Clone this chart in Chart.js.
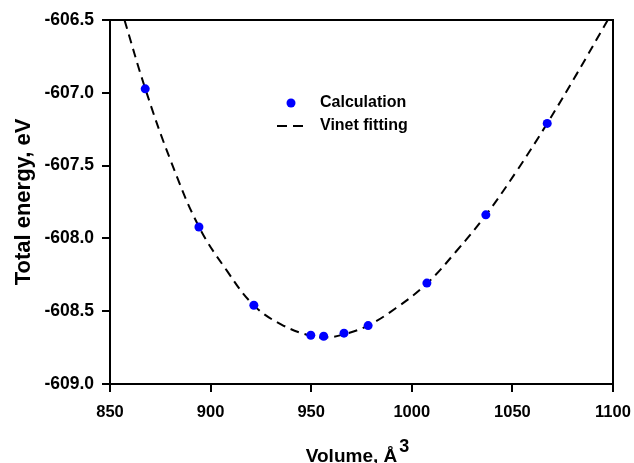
<!DOCTYPE html>
<html>
<head>
<meta charset="utf-8">
<script src="https://cdn.jsdelivr.net/npm/chart.js@4"></script>
<style>
html,body{margin:0;padding:0;background:#fff;}
canvas{display:block;}
</style>
</head>
<body>
<canvas id="c" width="634" height="463"></canvas>
<script>
// ---- Data ----
const calcVolumes = [867.5, 894.2, 921.5, 949.8, 956.2, 966.3, 978.3, 1007.5, 1036.8, 1067.3];
const calcEnergies = [-606.973, -607.922, -608.459, -608.665, -608.672, -608.651, -608.599, -608.307, -607.838, -607.210];

const fitVolumes = [857.2, 867.5, 880, 894.2, 908, 921.5, 935, 950, 958, 966, 978, 992, 1007.5, 1022, 1036.8, 1052, 1067.3, 1082, 1097.4];
const fitEnergies = [-606.5, -606.97, -607.46, -607.92, -608.22, -608.46, -608.59, -608.67, -608.68, -608.66, -608.60, -608.48, -608.31, -608.09, -607.84, -607.54, -607.21, -606.87, -606.5];

const xTickValues = [850, 900, 950, 1000, 1050, 1100];
const yTickValues = [-609.0, -608.5, -608.0, -607.5, -607.0, -606.5];

const seriesLabels = ['Calculation', 'Vinet fitting'];
const xTitleMain = 'Volume, Å';
const xTitleSup = '3';
const yTitle = 'Total energy, eV';

const FONT = "'Liberation Sans', Arial, Helvetica, sans-serif";

const calcPoints = calcVolumes.map((v, i) => ({x: v, y: calcEnergies[i]}));
const fitPoints = fitVolumes.map((v, i) => ({x: v, y: fitEnergies[i]}));

const framePlugin = {
  id: 'frame',
  afterDraw(chart) {
    const {ctx, chartArea: a} = chart;
    ctx.save();
    ctx.strokeStyle = '#000';
    ctx.lineWidth = 2;
    ctx.strokeRect(a.left, a.top, a.right - a.left, a.bottom - a.top);
    ctx.restore();
  }
};

const legendPlugin = {
  id: 'customLegend',
  afterDraw(chart) {
    const ctx = chart.ctx;
    const ds0 = chart.data.datasets[0];
    const ds1 = chart.data.datasets[1];
    ctx.save();
    ctx.fillStyle = ds0.backgroundColor;
    ctx.beginPath();
    ctx.arc(291, 103, 4.5, 0, Math.PI * 2);
    ctx.fill();
    ctx.strokeStyle = ds1.borderColor;
    ctx.lineWidth = 2;
    ctx.setLineDash([10, 6]);
    ctx.beginPath();
    ctx.moveTo(277, 126);
    ctx.lineTo(303, 126);
    ctx.stroke();
    ctx.setLineDash([]);
    ctx.fillStyle = '#000';
    ctx.font = 'bold 16px ' + FONT;
    ctx.textBaseline = 'middle';
    ctx.textAlign = 'left';
    ctx.fillText(ds0.label, 320, 103);
    ctx.fillText(ds1.label, 320, 126);
    ctx.restore();
  }
};

const xTitlePlugin = {
  id: 'xTitle',
  afterDraw(chart) {
    const ctx = chart.ctx;
    ctx.save();
    ctx.fillStyle = '#000';
    ctx.textBaseline = 'alphabetic';
    ctx.textAlign = 'left';
    ctx.font = 'bold 19px ' + FONT;
    const w1 = ctx.measureText(xTitleMain).width;
    ctx.font = 'bold 18px ' + FONT;
    const w2 = ctx.measureText(xTitleSup).width;
    const total = w1 + 2 + w2;
    const cx = 357.5;
    const x0 = cx - total / 2;
    ctx.font = 'bold 19px ' + FONT;
    ctx.fillText(xTitleMain, x0, 461.5);
    ctx.font = 'bold 18px ' + FONT;
    ctx.fillText(xTitleSup, x0 + w1 + 2, 452);
    ctx.restore();
  }
};

new Chart(document.getElementById('c'), {
  type: 'scatter',
  data: {
    datasets: [
      {
        label: seriesLabels[0],
        data: calcPoints,
        backgroundColor: '#0000ff',
        borderColor: '#0000ff',
        pointRadius: 4.5,
        pointBorderWidth: 0,
        showLine: false,
        order: 0
      },
      {
        label: seriesLabels[1],
        data: fitPoints,
        borderColor: '#000000',
        backgroundColor: '#000000',
        borderWidth: 2,
        borderDash: [9, 6],
        pointRadius: 0,
        showLine: true,
        tension: 0.4,
        order: 1
      }
    ]
  },
  options: {
    responsive: false,
    animation: false,
    devicePixelRatio: 1,
    layout: {padding: {top: 20, right: 21, left: 0, bottom: 0}},
    plugins: {
      legend: {display: false},
      tooltip: {enabled: false},
      title: {display: false}
    },
    scales: {
      x: {
        type: 'linear',
        min: 850,
        max: 1100,
        afterBuildTicks(scale) { scale.ticks = xTickValues.map(v => ({value: v})); },
        afterFit(scale) { scale.height = 79; scale.paddingLeft = 0; scale.paddingRight = 0; },
        ticks: {
          color: '#000',
          font: {family: FONT, size: 16.5, weight: 'bold'},
          padding: 11,
          maxRotation: 0,
          autoSkip: false,
          callback: v => String(v)
        },
        grid: {display: true, drawOnChartArea: false, drawTicks: true, tickLength: 8, color: '#000', lineWidth: 2},
        border: {display: false},
        title: {display: false}
      },
      y: {
        type: 'linear',
        min: -609,
        max: -606.5,
        afterBuildTicks(scale) { scale.ticks = yTickValues.map(v => ({value: v})); },
        afterFit(scale) { scale.width = 110; scale.paddingTop = 0; scale.paddingBottom = 0; },
        ticks: {
          color: '#000',
          font: {family: FONT, size: 17.5, weight: 'bold'},
          padding: 8,
          autoSkip: false,
          callback: v => Number(v).toFixed(1)
        },
        grid: {display: true, drawOnChartArea: false, drawTicks: true, tickLength: 8, color: '#000', lineWidth: 2},
        border: {display: false},
        title: {
          display: true,
          text: yTitle,
          color: '#000',
          font: {family: FONT, size: 22, weight: 'bold'},
          padding: {top: 11, bottom: 4}
        }
      }
    }
  },
  plugins: [framePlugin, legendPlugin, xTitlePlugin]
});
</script>
</body>
</html>
